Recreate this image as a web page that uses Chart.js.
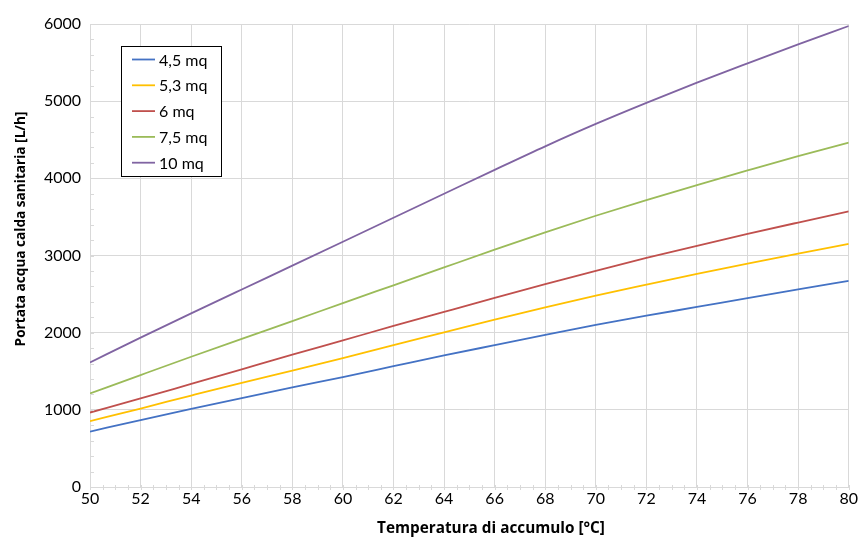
<!DOCTYPE html>
<html><head><meta charset="utf-8">
<script src="https://cdn.jsdelivr.net/npm/chart.js@4.4.1/dist/chart.umd.min.js"></script>
<style>html,body{margin:0;padding:0;background:#fff}#wrap{width:860px;height:537px}</style>
</head><body><div id="wrap"><canvas id="c" width="860" height="537"></canvas></div>
<script>
const temperatures = [50,52,54,56,58,60,62,64,66,68,70,72,74,76,78,80];
const area45 = [718,868,1012,1152,1290,1425,1565,1705,1838,1970,2100,2220,2333,2448,2560,2671];
const area53 = [853,1017,1185,1350,1508,1671,1840,2003,2168,2328,2481,2623,2762,2895,3024,3152];
const area6  = [965,1147,1336,1525,1714,1900,2087,2269,2450,2628,2802,2968,3126,3280,3427,3571];
const area75 = [1212,1451,1688,1920,2150,2383,2614,2845,3075,3300,3515,3718,3912,4102,4288,4464];
const area10 = [1614,1935,2250,2560,2868,3178,3490,3800,4110,4415,4705,4978,5240,5490,5735,5974];
const seriesLabels = ['4,5 mq','5,3 mq','6 mq','7,5 mq','10 mq'];
const seriesColors = ['#4472C4','#FFC000','#C0504D','#9BBB59','#8064A2'];
const xTitle = 'Temperatura di accumulo [°C]';
const yTitle = 'Portata acqua calda sanitaria [L/h]';

const allSeries = [area45, area53, area6, area75, area10];
const FONT = 'Lato, "Open Sans", sans-serif';
const TFONT = '"Open Sans", Lato, sans-serif';
const GRID = '#d9d9d9';

const datasets = allSeries.map((s, i) => ({
  label: seriesLabels[i],
  data: temperatures.map((t, k) => ({x: t, y: s[k]})),
  borderColor: seriesColors[i],
  backgroundColor: seriesColors[i],
  borderWidth: 1.8,
  pointRadius: 0,
  cubicInterpolationMode: 'monotone',
  fill: false
}));

function fitFont(ctx, text, target, base) {
  ctx.font = 'bold ' + base + 'px ' + TFONT;
  const w = ctx.measureText(text).width;
  const size = base * target / w;
  ctx.font = 'bold ' + size.toFixed(2) + 'px ' + TFONT;
}

const decor = {
  id: 'decor',
  afterDraw(chart) {
    const {ctx, chartArea, scales: {x, y}} = chart;
    ctx.save();
    ctx.strokeStyle = GRID;
    ctx.lineWidth = 1;
    for (let v = x.min; v <= x.max + 1e-9; v += 0.5) {
      const px = Math.round(x.getPixelForValue(v)) + 0.5;
      ctx.beginPath(); ctx.moveTo(px, chartArea.bottom - 2); ctx.lineTo(px, chartArea.bottom + 3); ctx.stroke();
    }
    for (let v = y.min; v <= y.max + 1e-9; v += 200) {
      const py = Math.round(y.getPixelForValue(v)) + 0.5;
      ctx.beginPath(); ctx.moveTo(chartArea.left, py); ctx.lineTo(chartArea.left + 4, py); ctx.stroke();
    }
    // legend
    const lx = 121.5, ly = 46.5, lw = 100, lh = 130;
    ctx.fillStyle = '#fff';
    ctx.fillRect(lx, ly, lw, lh);
    ctx.strokeStyle = '#000';
    ctx.lineWidth = 1;
    ctx.strokeRect(lx, ly, lw, lh);
    ctx.font = '16px ' + FONT;
    ctx.textBaseline = 'middle';
    ctx.textAlign = 'left';
    chart.data.datasets.forEach((ds, i) => {
      const ry = 59.5 + i * 25.8;
      ctx.strokeStyle = ds.borderColor;
      ctx.lineWidth = 1.8;
      ctx.beginPath(); ctx.moveTo(132, ry); ctx.lineTo(155, ry); ctx.stroke();
      ctx.fillStyle = '#000';
      ctx.fillText(ds.label, 159, ry + 1);
    });
    // axis titles
    ctx.fillStyle = '#000';
    ctx.textAlign = 'center';
    ctx.textBaseline = 'middle';
    fitFont(ctx, xTitle, 228, 15);
    ctx.fillText(xTitle, 491, 529);
    ctx.translate(21.5, 229);
    ctx.rotate(-Math.PI / 2);
    fitFont(ctx, yTitle, 235, 15);
    ctx.fillText(yTitle, 0, 0);
    ctx.restore();
  }
};

new Chart(document.getElementById('c'), {
  type: 'line',
  data: {datasets},
  options: {
    responsive: false,
    animation: false,
    layout: {padding: {left: 0, right: 9, top: 24, bottom: 0}},
    plugins: {legend: {display: false}, tooltip: {enabled: false}},
    scales: {
      x: {
        type: 'linear', min: 50, max: 80,
        afterFit: s => { s.height = 50; },
        border: {color: GRID, width: 1},
        grid: {color: GRID, lineWidth: 1, drawTicks: false},
        ticks: {stepSize: 2, color: '#000', padding: 2, font: {family: FONT, size: 16}},
        title: {display: false}
      },
      y: {
        min: 0, max: 6000,
        afterFit: s => { s.width = 90; },
        border: {color: GRID, width: 1},
        grid: {color: GRID, lineWidth: 1, drawTicks: false},
        ticks: {stepSize: 1000, color: '#000', padding: 9, font: {family: FONT, size: 16},
          callback: v => String(v)},
        title: {display: false}
      }
    }
  },
  plugins: [decor]
});
</script>
</body></html>
